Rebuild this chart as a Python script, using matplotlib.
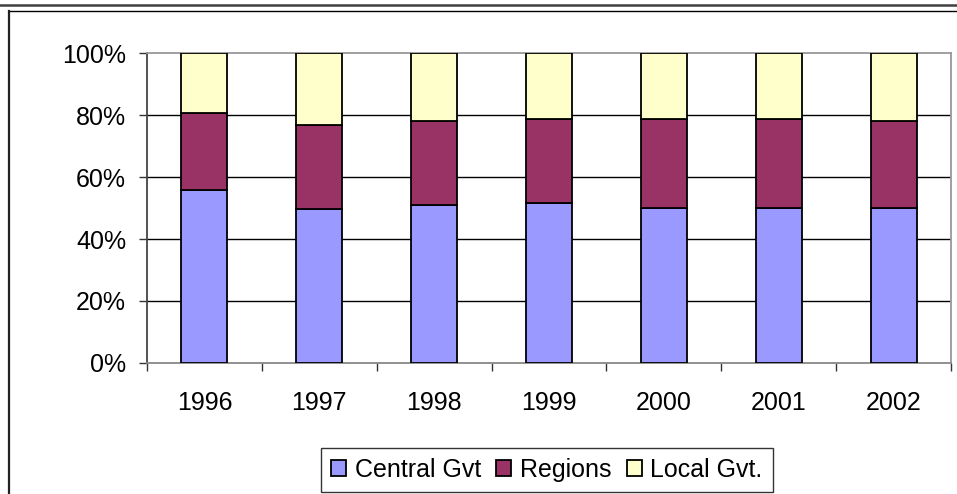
import matplotlib
matplotlib.use("Agg")
import matplotlib.pyplot as plt
from matplotlib.lines import Line2D
from matplotlib.ticker import FuncFormatter, FixedLocator
import numpy as np

years = ["1996", "1997", "1998", "1999", "2000", "2001", "2002"]
central = [55.8, 49.6, 51.0, 51.5, 50.1, 50.1, 50.1]
regions = [24.8, 27.2, 27.2, 27.1, 28.5, 28.5, 28.1]
local = [19.4, 23.2, 21.8, 21.4, 21.4, 21.4, 21.8]
series_names = ["Central Gvt", "Regions", "Local Gvt."]
colors = ["#9999FF", "#993366", "#FFFFCC"]

plt.rcParams["font.family"] = ["Liberation Sans", "DejaVu Sans"]

W, H = 957, 494
fig = plt.figure(figsize=(W / 100, H / 100), dpi=100)
fig.patch.set_facecolor("white")

L, R, T, B = 147, 951, 53, 363
ax = fig.add_axes([L / W, 1 - B / H, (R - L) / W, (B - T) / H])

x = np.arange(len(years))
bottom = np.zeros(len(years))
handles = []
for vals, c, name in zip([central, regions, local], colors, series_names):
    b = ax.bar(x, vals, bottom=bottom, width=0.4, color=c, edgecolor="black",
               linewidth=1.3, label=name, zorder=3)
    bottom = bottom + np.array(vals)
    handles.append(b)

ax.set_xlim(-0.5, len(years) - 0.5)
ax.set_ylim(0, 100)
ax.yaxis.set_major_locator(FixedLocator([0, 20, 40, 60, 80, 100]))
ax.yaxis.set_major_formatter(FuncFormatter(lambda v, p: f"{int(v)}%"))
for yv in [20, 40, 60, 80]:
    ax.axhline(yv, color="black", linewidth=1.0, zorder=1)

ax.set_xticks(x)
ax.set_xticklabels(years)
ax.set_xticks(np.arange(-0.5, len(years)), minor=True)
ax.tick_params(axis="x", which="major", length=0, pad=20, labelsize=18)
ax.tick_params(axis="x", which="minor", length=6, width=1, color="#333333", direction="out")
ax.tick_params(axis="y", which="major", length=6, width=1, color="#333333", direction="out",
               pad=9, labelsize=18)

ax.spines["left"].set_color("#444444")
ax.spines["left"].set_linewidth(1.3)
ax.spines["bottom"].set_color("#888888")
ax.spines["bottom"].set_linewidth(1.3)
ax.spines["top"].set_color("#999999")
ax.spines["top"].set_linewidth(1.3)
ax.spines["right"].set_color("#999999")
ax.spines["right"].set_linewidth(1.3)

# Outer frame lines
fig.add_artist(Line2D([0, 1], [1 - 5 / H, 1 - 5 / H], transform=fig.transFigure,
                      color="#404040", linewidth=1.8))
fig.add_artist(Line2D([9 / W, 1], [1 - 11 / H, 1 - 11 / H], transform=fig.transFigure,
                      color="black", linewidth=1.0))
fig.add_artist(Line2D([9 / W, 9 / W], [1 - 11 / H, 0], transform=fig.transFigure,
                      color="#222222", linewidth=1.6))

leg = fig.legend(handles=handles, labels=series_names, loc="center",
                 bbox_to_anchor=(547 / W, 1 - 470 / H), ncol=3, fontsize=18,
                 frameon=True, fancybox=False, edgecolor="black",
                 handlelength=0.6, handleheight=0.6, handletextpad=0.35,
                 columnspacing=0.6, borderpad=0.4, borderaxespad=0)
leg.get_frame().set_linewidth(1.0)

fig.savefig("out.png", dpi=100)
